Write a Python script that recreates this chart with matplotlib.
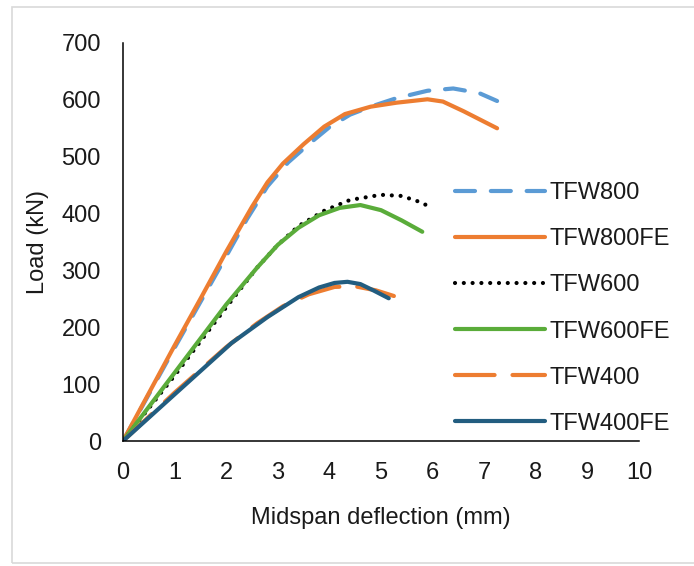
import matplotlib
matplotlib.use("Agg")
import matplotlib.pyplot as plt
from matplotlib.patches import Rectangle

plt.rcParams['font.family'] = ['Liberation Sans', 'DejaVu Sans']

# load-deflection curves (mm, kN)
x_tfw800 = [0, 1.0, 2.0, 2.4, 2.8, 3.2, 3.6, 4.0, 4.4, 4.8, 5.3, 5.9, 6.4, 6.9, 7.25]
y_tfw800 = [0, 164, 325, 390, 448, 490, 522, 552, 574, 588, 603, 616, 620, 612, 598]

x_tfw800fe = [0, 1.0, 1.5, 2.0, 2.5, 2.8, 3.1, 3.5, 3.9, 4.3, 4.8, 5.3, 5.9, 6.2, 6.6, 7.25]
y_tfw800fe = [0, 168, 250, 333, 412, 455, 488, 522, 553, 575, 588, 595, 601, 597, 580, 550]

x_tfw600 = [0, 1.0, 2.0, 2.6, 3.0, 3.4, 3.9, 4.4, 5.0, 5.4, 5.8, 6.0]
y_tfw600 = [0, 115, 235, 305, 345, 378, 405, 424, 433, 431, 419, 408]

x_tfw600fe = [0, 1.0, 2.0, 2.6, 3.0, 3.4, 3.8, 4.2, 4.6, 5.0, 5.4, 5.8]
y_tfw600fe = [0, 120, 240, 305, 345, 375, 397, 410, 415, 406, 388, 368]

x_tfw400 = [0, 1.0, 2.0, 2.6, 3.1, 3.6, 4.1, 4.5, 4.9, 5.25]
y_tfw400 = [0, 85, 165, 207, 237, 258, 271, 272, 265, 255]

x_tfw400fe = [0, 1.0, 2.1, 2.8, 3.4, 3.8, 4.1, 4.35, 4.6, 4.85, 5.15]
y_tfw400fe = [0, 82, 172, 218, 253, 270, 278, 280, 276, 265, 251]

x_ticks = list(range(0, 11))
y_ticks = list(range(0, 701, 100))

fig = plt.figure(figsize=(6.94, 5.66), dpi=100)
ax = fig.add_axes([123 / 694, 1 - 441 / 566, (639 - 123) / 694, (441 - 43) / 566])

# light frame around the whole picture
fig.patches.append(Rectangle((12 / 694, 1 - 563 / 566), 1.0, (563 - 7) / 566,
                             transform=fig.transFigure, fill=False,
                             edgecolor='#d9d9d9', linewidth=1.2))

lw = 3.0
ax.plot(x_tfw800, y_tfw800, color='#5b9bd5', lw=lw, ls=(0, (4.8, 3.8)),
        dash_capstyle='round', label='TFW800')
ax.plot(x_tfw800fe, y_tfw800fe, color='#ed7d31', lw=lw,
        solid_capstyle='round', label='TFW800FE')
ax.plot(x_tfw600, y_tfw600, color='black', lw=3.0, ls=(0, (0.01, 2.1)),
        dash_capstyle='round', label='TFW600')
ax.plot(x_tfw600fe, y_tfw600fe, color='#5aac3a', lw=lw,
        solid_capstyle='round', label='TFW600FE')
ax.plot(x_tfw400, y_tfw400, color='#ed7d31', lw=lw, ls=(0, (9.5, 4.3)),
        dash_capstyle='round', label='TFW400')
ax.plot(x_tfw400fe, y_tfw400fe, color='#225d80', lw=lw,
        solid_capstyle='round', label='TFW400FE')

ax.set_xlim(0, 10)
ax.set_ylim(0, 700)
ax.set_xticks(x_ticks)
ax.set_yticks(y_ticks)
for s in ['top', 'right']:
    ax.spines[s].set_visible(False)
for s in ['left', 'bottom']:
    ax.spines[s].set_linewidth(1.1)
    ax.spines[s].set_color('black')
ax.tick_params(axis='both', length=0, labelsize=17, labelcolor='#1a1a1a')
ax.tick_params(axis='y', pad=16)
ax.tick_params(axis='x', pad=15)

ax.set_xlabel('Midspan deflection (mm)', fontsize=17, color='#1a1a1a', labelpad=17)
ax.set_ylabel('Load (kN)', fontsize=17, color='#1a1a1a', labelpad=9)

leg = fig.legend(loc='center left', bbox_to_anchor=(455 / 694, 1 - 308.5 / 566),
                 frameon=False, fontsize=17, handlelength=3.8, handletextpad=0.2,
                 labelspacing=1.02, borderpad=0, borderaxespad=0)
for t in leg.get_texts():
    t.set_color('#1a1a1a')

fig.savefig('out.png', dpi=100)
